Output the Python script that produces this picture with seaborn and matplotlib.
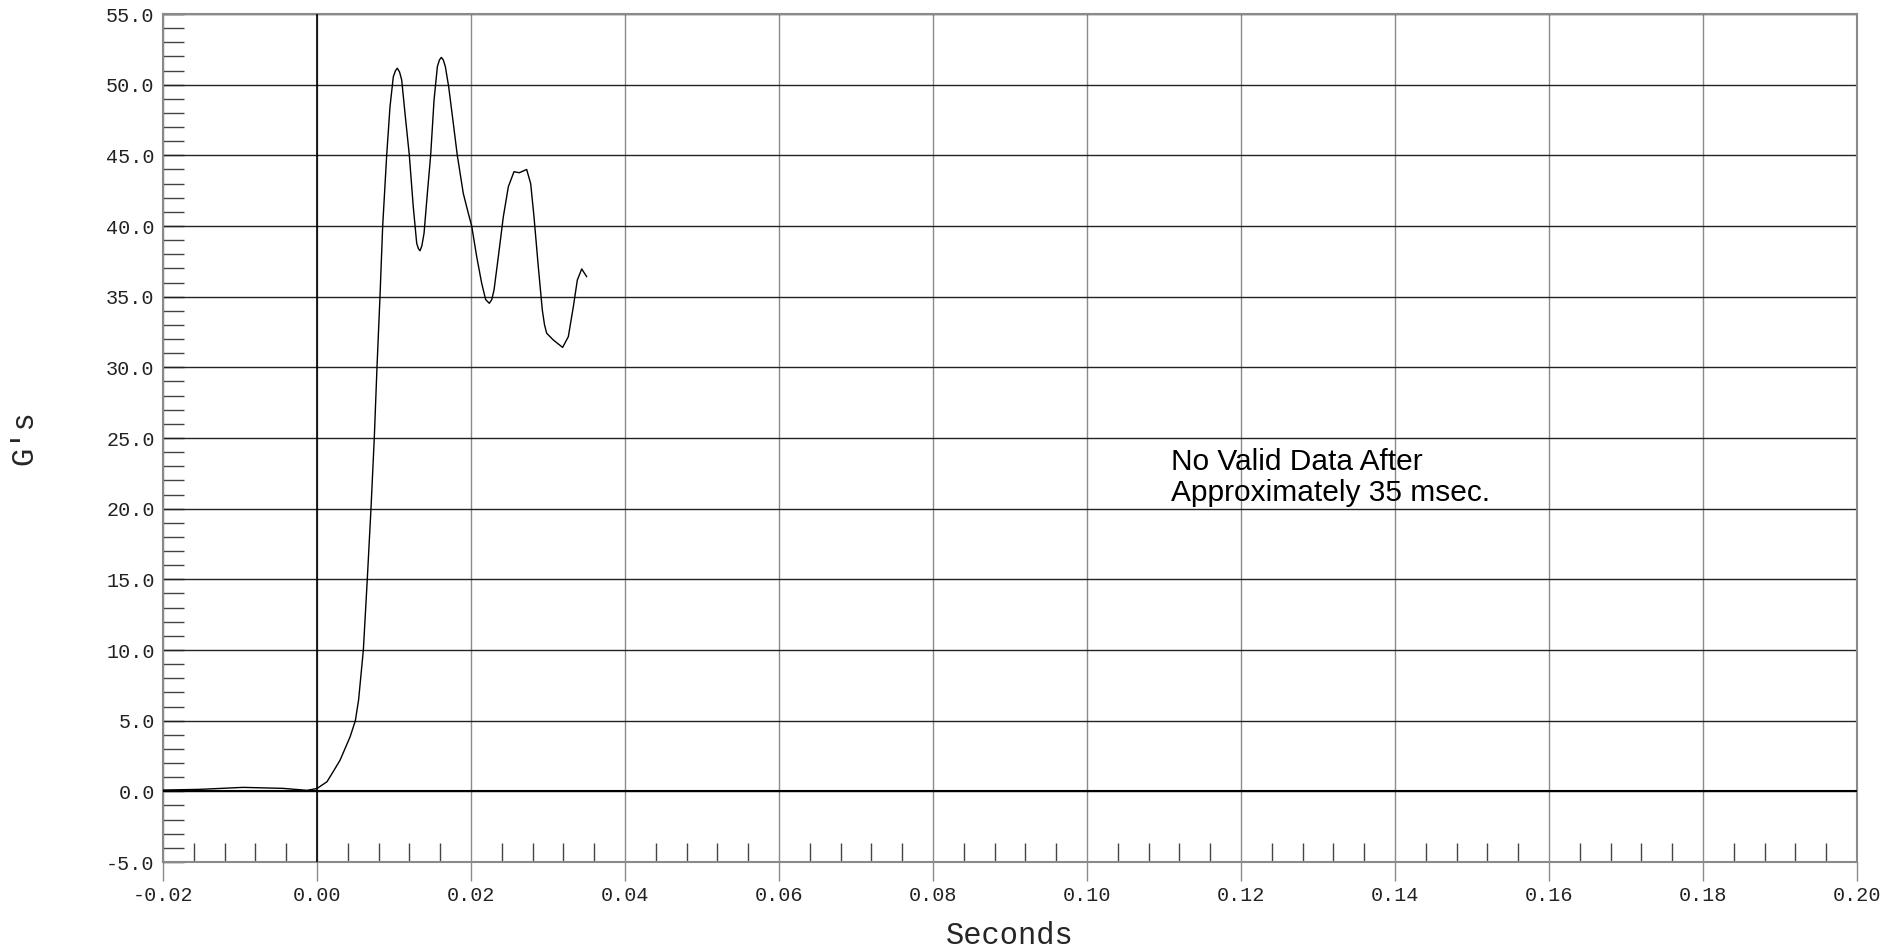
import numpy as np
import pandas as pd
import seaborn as sns
import matplotlib.pyplot as plt
from matplotlib.ticker import MultipleLocator

# values
seconds = [-0.0200, -0.0152, -0.0096, -0.0044, -0.0013, 0.0000, 0.0013, 0.0021,
           0.0030, 0.0043, 0.00498, 0.0054, 0.00602, 0.00653, 0.00701, 0.00744,
           0.00779, 0.00818, 0.00853, 0.00905, 0.00948, 0.00991, 0.0102, 0.01043,
           0.01072, 0.0110, 0.01143, 0.01199, 0.0125, 0.01295, 0.01317, 0.01338,
           0.01362, 0.0139, 0.01437, 0.01476, 0.0152, 0.01563, 0.0159, 0.01615,
           0.0164, 0.01667, 0.0171, 0.0177, 0.01822, 0.0190, 0.01965, 0.02009,
           0.02074, 0.02139, 0.0219, 0.02238, 0.0227, 0.02299, 0.02355, 0.0242,
           0.02485, 0.02558, 0.02628, 0.02723, 0.02775, 0.02818, 0.02874, 0.02926,
           0.02955, 0.02983, 0.0307, 0.0319, 0.03264, 0.03329, 0.03381, 0.03438,
           0.03503]
gs = [0.09, 0.14, 0.28, 0.21, 0.07, 0.20, 0.68, 1.39,
      2.21, 3.86, 5.0, 6.46, 10.0, 15.0, 20.0, 25.0,
      30.0, 35.0, 40.0, 45.0, 48.44, 50.56, 51.0, 51.16,
      50.9, 50.33, 47.97, 45.0, 41.37, 38.77, 38.4, 38.25,
      38.6, 39.48, 42.55, 45.0, 48.9, 51.27, 51.75, 51.93,
      51.75, 51.27, 49.86, 47.27, 45.0, 42.3, 40.9, 40.0,
      37.83, 35.94, 34.8, 34.53, 34.8, 35.47, 37.83, 40.66,
      42.78, 43.84, 43.77, 44.0, 43.0, 40.66, 37.12, 34.06,
      33.0, 32.41, 31.93, 31.41, 32.17, 34.29, 36.18, 36.96,
      36.41]

df = pd.DataFrame({"Seconds": seconds, "G's": gs})

sns.set_style("white")
plt.rcParams['font.family'] = ['Liberation Mono', 'DejaVu Sans']

fig = plt.figure(figsize=(18.92, 9.5), dpi=100)
ax = fig.add_axes([163 / 1892, 1 - 862 / 950, (1857 - 163) / 1892, (862 - 14) / 950])

sns.lineplot(data=df, x="Seconds", y="G's", color="black", linewidth=1.0,
             ax=ax, zorder=5)

ax.set_xlim(-0.02, 0.20)
ax.set_ylim(-5, 55)
ax.xaxis.set_major_locator(MultipleLocator(0.02))
ax.xaxis.set_minor_locator(MultipleLocator(0.004))
ax.yaxis.set_major_locator(MultipleLocator(5))
ax.yaxis.set_minor_locator(MultipleLocator(1))
ax.xaxis.set_major_formatter(plt.FuncFormatter(lambda v, p: f"{v:.2f}"))
ax.yaxis.set_major_formatter(plt.FuncFormatter(lambda v, p: f"{v:.1f}"))

# grid: dark horizontals, grey verticals
ax.grid(axis="y", which="major", color="#222222", linewidth=1.0)
ax.grid(axis="x", which="major", color="#8a8a8a", linewidth=1.0)
ax.axvline(0, color="black", linewidth=1.2, zorder=3)
ax.axhline(0, color="black", linewidth=1.5, zorder=3)

for s in ax.spines.values():
    s.set_color("#8a8a8a")
    s.set_linewidth(1.5)

ax.tick_params(which="both", bottom=True, left=True, top=False, right=False)
ax.tick_params(axis="x", which="major", direction="out", length=14, width=1,
               color="#8a8a8a", pad=3, labelsize=14.5, labelcolor="#222222")
ax.tick_params(axis="x", which="minor", direction="in", length=14, width=1,
               color="#444444")
ax.tick_params(axis="y", which="major", direction="in", length=15, width=1,
               color="#222222", pad=6, labelsize=14.5, labelcolor="#222222")
ax.tick_params(axis="y", which="minor", direction="in", length=15, width=1,
               color="#444444")

ax.set_xlabel("Seconds", fontsize=22, labelpad=12)
ax.set_ylabel("G's", fontsize=22, labelpad=48)

ax.text(0.1109, 24.3, "No Valid Data After\nApproximately 35 msec.",
        family="Liberation Sans", fontsize=21.5, ha="left", va="top",
        linespacing=1.12, color="black")

fig.savefig("out.png", dpi=100)
